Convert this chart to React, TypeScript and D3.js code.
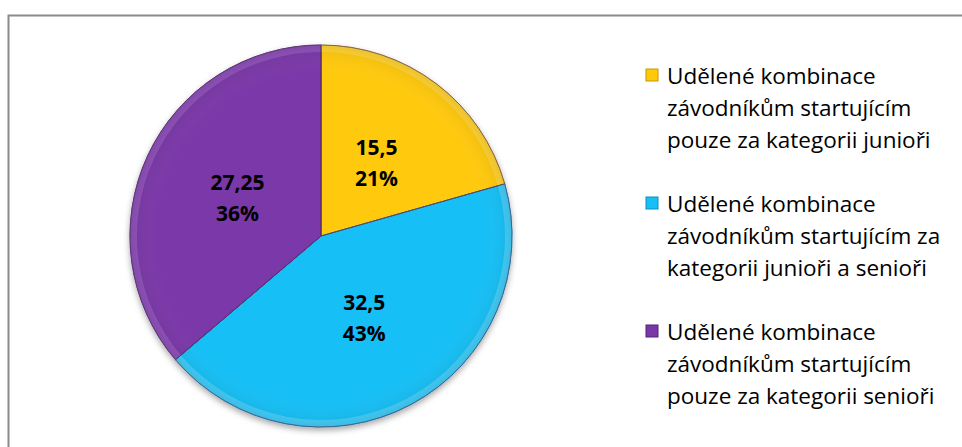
import React from "react";
import * as d3 from "d3";

const categories = [
  ["Udělené kombinace", "závodníkům startujícím", "pouze za kategorii junioři"],
  ["Udělené kombinace", "závodníkům startujícím za", "kategorii junioři a senioři"],
  ["Udělené kombinace", "závodníkům startujícím", "pouze za kategorii senioři"],
];
const values = [15.5, 32.5, 27.25];
const valueLabels = ["15,5", "32,5", "27,25"];
const percentLabels = ["21%", "43%", "36%"];
const colors = ["#FFC90A", "#17BFF5", "#7A37A8"];
const darkColors = ["#C89A00", "#0A8FC0", "#55237A"];
const lightColors = ["#FFE57A", "#8FE6FF", "#B47FDA"];

const W = 962;
const H = 447;
const cx = 321;
const cy = 236;
const R = 191;

export default function App() {
  const pie = d3.pie<number>().sort(null).value((d) => d);
  const arcs = pie(values);
  const arc = d3.arc<d3.PieArcDatum<number>>().innerRadius(0).outerRadius(R);
  const rim = d3.arc<d3.PieArcDatum<number>>().innerRadius(R - 7).outerRadius(R);
  const labelArc = d3.arc<d3.PieArcDatum<number>>().innerRadius(92).outerRadius(92);
  const font = "'Open Sans', sans-serif";

  return (
    <svg
      width={W}
      height={H}
      style={{ position: "absolute", left: 0, top: 0, display: "block" }}
    >
      <defs>
        <filter id="shadow" x="-20%" y="-20%" width="140%" height="140%">
          <feDropShadow dx="0" dy="3" stdDeviation="3" floodColor="#000" floodOpacity="0.35" />
        </filter>
        <radialGradient id="shade" cx="0.5" cy="0.5" r="0.5">
          <stop offset="0%" stopColor="#fff" stopOpacity="0" />
          <stop offset="85%" stopColor="#fff" stopOpacity="0" />
          <stop offset="100%" stopColor="#000" stopOpacity="0.08" />
        </radialGradient>
      </defs>
      <rect x={8.5} y={15.5} width={W} height={H} fill="#fff" stroke="#8a8a8a" strokeWidth={2} />
      <g transform={`translate(${cx},${cy})`}>
        <g filter="url(#shadow)">
          {arcs.map((a, i) => (
            <path key={i} d={arc(a) || ""} fill={colors[i]} stroke={darkColors[i]} strokeWidth={1} />
          ))}
        </g>
        {arcs.map((a, i) => (
          <path key={"r" + i} d={rim(a) || ""} fill={lightColors[i]} opacity={0.35} />
        ))}
        <circle r={R} fill="url(#shade)" />
        {arcs.map((a, i) => (
          <path key={"s" + i} d={arc(a) || ""} fill="none" stroke="#5a3a6a" strokeOpacity={0.6} strokeWidth={1} />
        ))}
        {arcs.map((a, i) => {
          const [lx, ly] = labelArc.centroid(a);
          return (
            <text
              key={"t" + i}
              textAnchor="middle"
              fontFamily={font}
              fontWeight="bold"
              fontSize={21}
              fill="#000"
            >
              <tspan x={lx} y={ly - 15} dy="0.35em">{valueLabels[i]}</tspan>
              <tspan x={lx} y={ly + 16} dy="0.35em">{percentLabels[i]}</tspan>
            </text>
          );
        })}
      </g>
      {categories.map((lines, i) => {
        const y0 = 76 + i * 128;
        return (
          <g key={"l" + i}>
            <rect x={646} y={y0 - 7} width={12} height={12} fill={colors[i]} stroke={darkColors[i]} strokeWidth={1} />
            {lines.map((t, j) => (
              <text
                key={j}
                x={667}
                y={y0 + j * 32}
                dy="0.35em"
                fontFamily={font}
                fontSize={22.5}
                fill="#000"
              >
                {t}
              </text>
            ))}
          </g>
        );
      })}
    </svg>
  );
}
